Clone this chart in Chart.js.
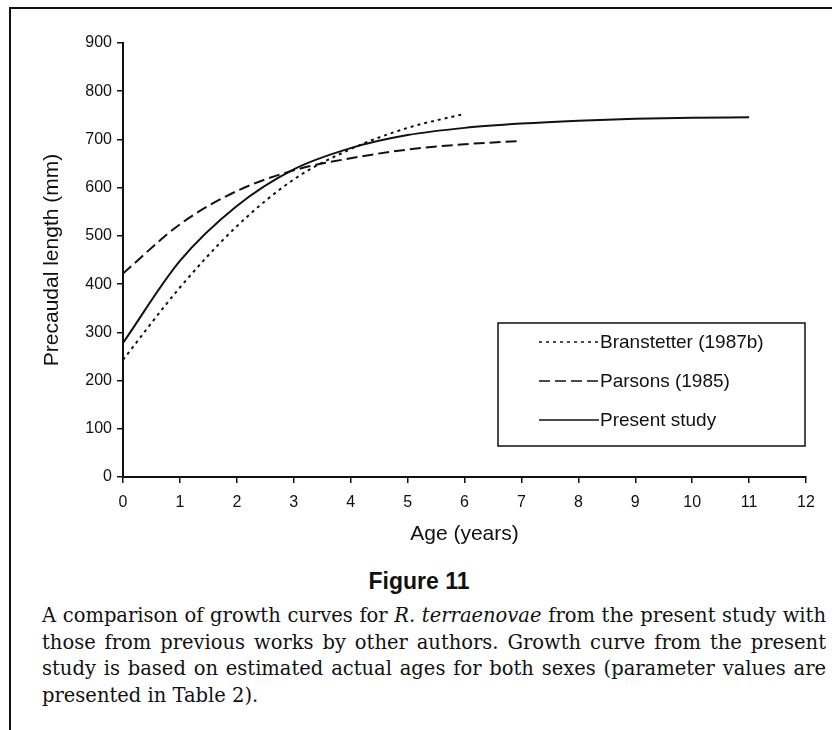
<!DOCTYPE html>
<html>
<head>
<meta charset="utf-8">
<title>Figure 11</title>
<script src="https://cdn.jsdelivr.net/npm/chart.js@4.4.1/dist/chart.umd.min.js"></script>
<style>
  body { margin: 0; background: #fff; }
  #page { position: relative; width: 832px; height: 730px; overflow: hidden; background: #fff; }
  #frame { position: absolute; left: 9px; top: 7px; width: 830px; height: 730px; border-top: 2px solid #111; border-left: 2px solid #111; }
  #chart { position: absolute; left: 0; top: 0; }
  #figtitle { position: absolute; left: 0; width: 838px; top: 568px; text-align: center;
    font-family: "Liberation Sans", Arial, sans-serif; font-weight: bold; font-size: 23px; color: #111; }
  #caption { position: absolute; left: 42px; width: 784px; top: 603px;
    font-family: "DejaVu Serif", "Liberation Serif", serif; font-size: 19.5px; line-height: 26.7px; color: #111; }
  #caption div { white-space: nowrap; text-align: justify; text-align-last: justify; }
  #caption div.last { text-align-last: left; }
</style>
</head>
<body>
<div id="page">
  <div id="frame"></div>
  <canvas id="chart" width="832" height="560"></canvas>
  <div id="figtitle">Figure 11</div>
  <div id="caption">
    <div>A comparison of growth curves for <i>R. terraenovae</i> from the present study with</div>
    <div>those from previous works by other authors. Growth curve from the present</div>
    <div>study is based on estimated actual ages for both sexes (parameter values are</div>
    <div class="last">presented in Table 2).</div>
  </div>
</div>
<script>
// values (precaudal length in mm at each age in years)
var branstetterAges = [0, 1, 2, 3, 4, 5, 6];
var branstetter = [243, 393, 520, 617, 680, 724, 753];

var parsonsAges = [0, 1, 2, 3, 4, 5, 6, 7];
var parsons = [422, 524, 593, 636, 661, 679, 690, 697];

var presentAges = [0, 1, 2, 3, 4, 5, 6, 7, 8, 9, 10, 11];
var present = [278, 448, 562, 638, 682, 709, 724, 733, 739, 743, 745, 746];

var seriesNames = ["Branstetter (1987b)", "Parsons (1985)", "Present study"];

function toPoints(xs, ys) { // pair ages with lengths for the linear x scale
  var pts = [];
  for (var i = 0; i < xs.length; i++) {
    pts.push({ x: xs[i], y: ys[i] });
  }
  return pts;
}

// legend drawn inside the plot like the original box
var boxLegend = {
  id: "boxLegend",
  afterDraw: function (chart) {
    var ctx = chart.ctx;
    var left = 498, top = 323, right = 805, bottom = 446;
    ctx.save();
    ctx.strokeStyle = "#111";
    ctx.lineWidth = 1.5;
    ctx.setLineDash([]);
    ctx.strokeRect(left, top, right - left, bottom - top);
    ctx.font = "19px 'Liberation Sans', Arial, sans-serif";
    ctx.fillStyle = "#111";
    ctx.textBaseline = "middle";
    chart.data.datasets.forEach(function (ds, i) {
      var y = 342 + i * 39;
      ctx.beginPath();
      ctx.lineWidth = 1.5;
      ctx.setLineDash(ds.borderDash || []);
      ctx.moveTo(539, y);
      ctx.lineTo(599, y);
      ctx.stroke();
      ctx.fillText(ds.label, 600, y + 1);
    });
    ctx.restore();
  }
};

var tickFont = { family: "'Liberation Sans', Arial, sans-serif", size: 16 };
var titleFont = { family: "'Liberation Sans', Arial, sans-serif", size: 21 };

new Chart(document.getElementById("chart"), {
  type: "line",
  data: {
    datasets: [
      {
        label: seriesNames[0],
        data: toPoints(branstetterAges, branstetter),
        borderColor: "#111",
        borderWidth: 2,
        borderDash: [3, 4],
        pointRadius: 0,
        cubicInterpolationMode: "monotone"
      },
      {
        label: seriesNames[1],
        data: toPoints(parsonsAges, parsons),
        borderColor: "#111",
        borderWidth: 2,
        borderDash: [11, 5],
        pointRadius: 0,
        cubicInterpolationMode: "monotone"
      },
      {
        label: seriesNames[2],
        data: toPoints(presentAges, present),
        borderColor: "#111",
        borderWidth: 2,
        pointRadius: 0,
        cubicInterpolationMode: "monotone"
      }
    ]
  },
  options: {
    responsive: false,
    animation: false,
    layout: { padding: { left: 36, right: 26, top: 43, bottom: 9 } },
    plugins: {
      legend: { display: false },
      tooltip: { enabled: false }
    },
    scales: {
      x: {
        type: "linear",
        min: 0,
        max: 12,
        ticks: { stepSize: 1, color: "#111", font: tickFont, padding: 10 },
        grid: { drawOnChartArea: false, drawTicks: true, tickLength: 6, color: "#111", lineWidth: 1.5 },
        border: { display: true, color: "#111", width: 2 },
        title: { display: true, text: "Age (years)", color: "#111", font: titleFont },
        afterFit: function (axis) { axis.height = 74; }
      },
      y: {
        min: 0,
        max: 900,
        ticks: { stepSize: 100, color: "#111", font: tickFont, padding: 5 },
        grid: { drawOnChartArea: false, drawTicks: true, tickLength: 6, color: "#111", lineWidth: 1.5 },
        border: { display: true, color: "#111", width: 2 },
        title: { display: true, text: "Precaudal length (mm)", color: "#111", font: titleFont },
        afterFit: function (axis) { axis.width = 87; }
      }
    }
  },
  plugins: [boxLegend]
});
</script>
</body>
</html>
